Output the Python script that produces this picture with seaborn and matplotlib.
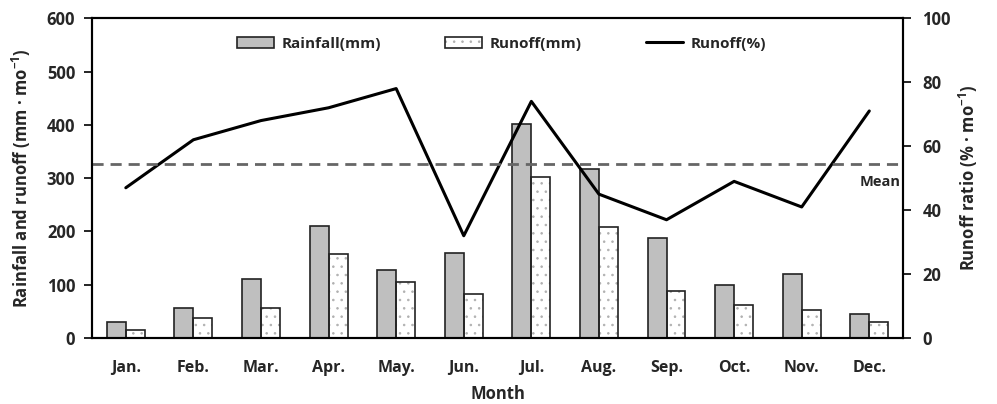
import numpy as np
import pandas as pd
import matplotlib
matplotlib.use("Agg")
import matplotlib.pyplot as plt
import seaborn as sns
from matplotlib.ticker import FixedLocator, NullFormatter
from matplotlib.patches import Patch, Rectangle
from matplotlib.lines import Line2D
from matplotlib.legend_handler import HandlerBase

months = ["Jan.", "Feb.", "Mar.", "Apr.", "May.", "Jun.", "Jul.", "Aug.", "Sep.", "Oct.", "Nov.", "Dec."]
rainfall = [30, 57, 110, 210, 127, 160, 402, 318, 188, 100, 120, 45]
runoff = [15, 38, 57, 157, 105, 82, 303, 208, 88, 62, 53, 30]
runoff_pct = [47, 62, 68, 72, 78, 32, 74, 45, 37, 49, 41, 71]
mean_pct = 54.5

sns.set_style("white")
FONT = "Open Sans"
plt.rcParams["font.family"] = [FONT, "DejaVu Sans"]
plt.rcParams["font.weight"] = "bold"
plt.rcParams["axes.labelweight"] = "bold"
plt.rcParams["mathtext.fontset"] = "custom"
plt.rcParams["mathtext.rm"] = FONT + ":bold"
plt.rcParams["mathtext.bf"] = FONT + ":bold"
plt.rcParams["hatch.linewidth"] = 0.6

HATCH = ".."
HCOL = "#b0b0b0"
EDGE = "#222222"

df = pd.DataFrame({
    "Month": months * 2,
    "Value": rainfall + runoff,
    "Series": ["Rainfall(mm)"] * 12 + ["Runoff(mm)"] * 12,
})

fig = plt.figure(figsize=(9.97, 4.04), dpi=100)
ax = fig.add_axes([0.0923, 0.163, 0.8135, 0.792])

# filled bars (hatch colour comes from edge colour)
sns.barplot(data=df, x="Month", y="Value", hue="Series", ax=ax,
            palette=["#bfbfbf", "white"], width=0.56, linewidth=0,
            legend=False)
for p in ax.containers[1]:
    p.set_facecolor("white")
    p.set_edgecolor(HCOL)
    p.set_hatch(HATCH)
    p.set_linewidth(0)
# outlines
sns.barplot(data=df, x="Month", y="Value", hue="Series", ax=ax,
            palette=[EDGE, EDGE], width=0.56, fill=False, linewidth=1.2,
            legend=False)

ax.set_xlim(-0.5, 11.5)
ax.set_ylim(0, 600)
ax.set_yticks(np.arange(0, 601, 100))
ax.xaxis.set_major_locator(FixedLocator(np.arange(-0.5, 12, 1)))
ax.xaxis.set_major_formatter(NullFormatter())
ax.set_xticks(np.arange(0, 12, 1), minor=True)
ax.set_xticklabels(months, minor=True)
ax.tick_params(axis="x", which="major", direction="out", length=6, width=1.2, color="black")
ax.tick_params(axis="x", which="minor", length=0, labelsize=11.5, pad=16)
ax.tick_params(axis="y", direction="out", length=6, width=1.2, labelsize=12, color="black", pad=6)
ax.set_xlabel("Month", fontsize=12, fontweight="bold", labelpad=6)
ax.set_ylabel("Rainfall and runoff (mm · mo$^{-1}$)", fontsize=12, fontweight="bold", labelpad=10)
for s in ax.spines.values():
    s.set_color("black")
    s.set_linewidth(1.5)

ax2 = ax.twinx()
sns.lineplot(x=np.arange(12), y=runoff_pct, ax=ax2, color="black", linewidth=2.2, legend=False)
ax2.axhline(mean_pct, color="#666666", linestyle=(0, (4, 2.5)), linewidth=2)
ax2.set_ylim(0, 100)
ax2.set_yticks(np.arange(0, 101, 20))
ax2.tick_params(axis="y", direction="out", length=6, width=1.2, labelsize=12, color="black", pad=8)
ax2.set_ylabel("Runoff ratio (% · mo$^{-1}$)", fontsize=12, fontweight="bold", labelpad=4)
ax2.text(11.47, mean_pct - 3.5, "Mean", ha="right", va="top", fontsize=10.5, fontweight="bold")
for s in ax2.spines.values():
    s.set_color("black")
    s.set_linewidth(1.5)
ax2.set_xlim(-0.5, 11.5)


class HatchHandler(HandlerBase):
    def create_artists(self, legend, orig_handle, xdescent, ydescent, width, height, fontsize, trans):
        r1 = Rectangle((-xdescent, -ydescent), width, height, facecolor="white",
                       edgecolor=HCOL, hatch=HATCH, linewidth=0, transform=trans)
        r2 = Rectangle((-xdescent, -ydescent), width, height, facecolor="none",
                       edgecolor=EDGE, linewidth=1.2, transform=trans)
        return [r1, r2]


hp = Patch(facecolor="white", edgecolor=EDGE, label="Runoff(mm)")
handles = [
    Patch(facecolor="#bfbfbf", edgecolor=EDGE, linewidth=1.2, label="Rainfall(mm)"),
    hp,
    Line2D([0], [0], color="black", linewidth=2.2, label="Runoff(%)"),
]
ax2.legend(handles=handles, loc="upper center", bbox_to_anchor=(0.505, 0.985), ncol=3,
           frameon=False, fontsize=11, columnspacing=4.2, handlelength=2.4,
           handleheight=0.7, handletextpad=0.5, handler_map={hp: HatchHandler()})

fig.savefig("out.png", dpi=100)
